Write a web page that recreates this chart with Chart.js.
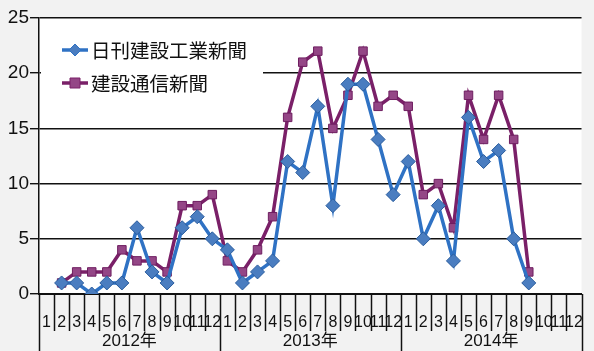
<!DOCTYPE html>
<html>
<head>
<meta charset="utf-8">
<script src="https://cdn.jsdelivr.net/npm/chart.js@4.4.0/dist/chart.umd.min.js"></script>
<style>
  html, body { margin: 0; padding: 0; background: #f2f2f2; }
  #wrap { width: 594px; height: 351px; }
</style>
</head>
<body>
<div id="wrap"><canvas id="chart" width="594" height="351"></canvas></div>
<script>
const years = ['2012年', '2013年', '2014年'];
const months = ['1','2','3','4','5','6','7','8','9','10','11','12'];
const nikkan = [
    null, 1, 1, 0, 1, 1, 6, 2, 1, 6, 7, 5,
    4, 1, 2, 3, 12, 11, 17, 8, 19, 19, 14, 9,
    12, 5, 8, 3, 16, 12, 13, 5, 1, null, null, null
];
const tsushin = [
    null, 1, 2, 2, 2, 4, 3, 3, 2, 8, 8, 9,
    3, 2, 4, 7, 16, 21, 22, 15, 18, 22, 17, 18,
    17, 9, 10, 6, 18, 14, 18, 14, 2, null, null, null
];
const seriesNames = ['日刊建設工業新聞', '建設通信新聞'];
const yTicks = [0, 5, 10, 15, 20, 25];

const labels = [];
years.forEach(() => months.forEach(m => labels.push(m)));

const BLUE = '#2f72c4';
const PURPLE = '#7a2068';

// month boxes, year separators, year names, legend
const decor = {
    id: 'decor',
    beforeDraw(chart) {
        const ctx = chart.ctx;
        const a = chart.chartArea;
        ctx.save();
        ctx.fillStyle = '#ffffff';
        ctx.fillRect(a.left, a.top, a.right - a.left, a.bottom - a.top);
        ctx.restore();
    },
    afterDraw(chart) {
        const ctx = chart.ctx;
        const xs = chart.scales.x;
        const a = chart.chartArea;
        const step = xs.getPixelForValue(1) - xs.getPixelForValue(0);
        ctx.save();
        ctx.strokeStyle = '#111';
        ctx.lineWidth = 1.5;
        for (let i = 0; i <= labels.length; i++) {
            const x = Math.round(xs.getPixelForValue(i) - step / 2) + 0.5;
            ctx.beginPath();
            ctx.moveTo(x, a.bottom);
            ctx.lineTo(x, i % 12 === 0 ? 351 : a.bottom + 37);
            ctx.stroke();
        }
        ctx.fillStyle = '#111';
        ctx.font = '17px "Liberation Sans", "Noto Sans CJK JP"';
        ctx.textAlign = 'center';
        ctx.textBaseline = 'middle';
        years.forEach((y, k) => {
            const x = xs.getPixelForValue(k * 12 + 5.5);
            ctx.fillText(y, x, 341);
        });

        // legend
        ctx.fillStyle = '#ffffff';
        ctx.fillRect(a.left + 2, 28, 222, 72);
        const items = [
            {name: seriesNames[0], color: BLUE, fill: '#4a7dc0', y: 50, shape: 'diamond'},
            {name: seriesNames[1], color: PURPLE, fill: '#944686', y: 83, shape: 'square'}
        ];
        items.forEach(it => {
            ctx.strokeStyle = it.color;
            ctx.lineWidth = 3.5;
            ctx.beginPath();
            ctx.moveTo(62, it.y);
            ctx.lineTo(88, it.y);
            ctx.stroke();
            ctx.fillStyle = it.fill;
            ctx.lineWidth = 1;
            ctx.beginPath();
            if (it.shape === 'diamond') {
                ctx.moveTo(75, it.y - 6);
                ctx.lineTo(81, it.y);
                ctx.lineTo(75, it.y + 6);
                ctx.lineTo(69, it.y);
                ctx.closePath();
            } else {
                ctx.rect(70, it.y - 5, 10, 10);
            }
            ctx.fill();
            ctx.stroke();
            ctx.fillStyle = '#111';
            ctx.font = '19.5px "Noto Sans CJK JP"';
            ctx.textAlign = 'left';
            ctx.fillText(it.name, 91, it.y + 1);
        });
        ctx.restore();
    }
};

window.addEventListener('load', () => {
    const ctx = document.getElementById('chart').getContext('2d');
    new Chart(ctx, {
        type: 'line',
        data: {
            labels,
            datasets: [{
                label: seriesNames[0],
                data: nikkan,
                borderColor: BLUE,
                backgroundColor: '#4a7dc0',
                pointBorderColor: '#2a5d9e',
                borderWidth: 3.5,
                pointStyle: 'rectRot',
                pointRadius: 7,
                pointBorderWidth: 1,
                tension: 0
            }, {
                label: seriesNames[1],
                data: tsushin,
                borderColor: PURPLE,
                backgroundColor: '#944686',
                pointBorderColor: '#6e1e60',
                borderWidth: 3.5,
                pointStyle: 'rect',
                pointRadius: 6,
                pointBorderWidth: 1,
                tension: 0
            }]
        },
        options: {
            responsive: false,
            animation: false,
            layout: {padding: {top: 18, right: 0, left: 0, bottom: 0}},
            plugins: {legend: {display: false}, tooltip: {enabled: false}},
            scales: {
                x: {
                    offset: true,
                    grid: {display: false},
                    border: {display: true, color: '#111', width: 2},
                    ticks: {
                        color: '#111',
                        padding: 11,
                        autoSkip: false,
                        maxRotation: 0,
                        font: {family: '"Liberation Sans Narrow", "Liberation Sans"', size: 16}
                    },
                    afterFit(s) { s.height = 57; }
                },
                y: {
                    min: 0,
                    max: 25,
                    afterBuildTicks(s) { s.ticks = yTicks.map(v => ({value: v})); },
                    grid: {color: '#111', lineWidth: 1.4, tickLength: 9},
                    border: {display: true, color: '#111', width: 1.5},
                    ticks: {
                        color: '#111',
                        padding: 1,
                        font: {family: '"Liberation Sans"', size: 19}
                    },
                    afterFit(s) { s.width = 39; }
                }
            }
        },
        plugins: [decor]
    });
});
</script>
</body>
</html>
